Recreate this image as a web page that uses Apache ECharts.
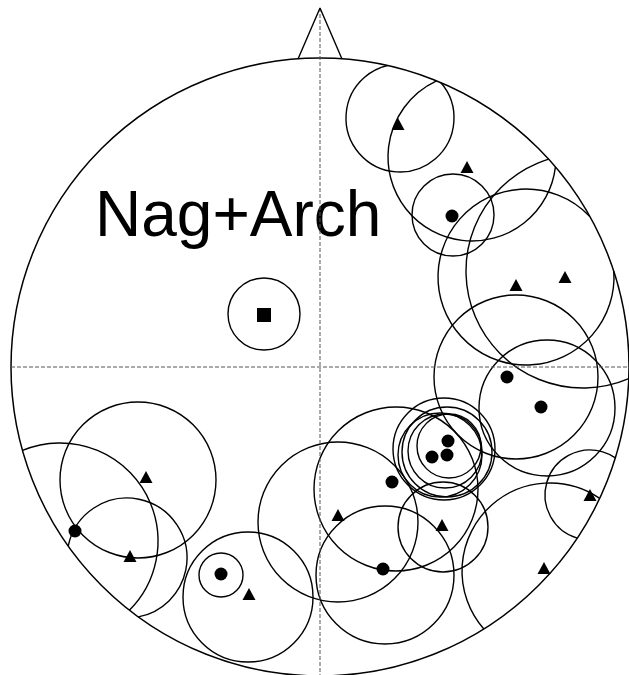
<!DOCTYPE html>
<html>
<head>
<meta charset="utf-8">
<script src="https://cdn.jsdelivr.net/npm/echarts@6/dist/echarts.min.js"></script>
<style>
	html, body { margin: 0; padding: 0; background: #fff; }
	#chart { width: 629px; height: 675px; }
</style>
</head>
<body>
<div id="chart"></div>
<script>
// units: 1 = one pixel of the original, origin at the centre of the net, y up
const primitiveR = 309

// poles, [x, y]
const triangles = [
	[78, 243], [147, 200], [196, 82], [245, 90], [-174, -110], [-190, -189],
	[-71, -227], [18, -148], [122, -158], [270, -128], [224, -201]
]
const dots = [
	[132, 151], [187, -10], [221, -40], [128, -74], [127, -88], [112, -90],
	[72, -115], [-245, -164], [-99, -207], [63, -202]
]
const squares = [[-56, 52]]

// confidence circles, [x, y, radius]
const cones = [
	[-56, 53, 36], [-99, -208, 22], [-72, -230, 65], [80, 249, 54],
	[152, 210, 84], [133, 152, 41], [206, 90, 88], [263, 96, 117],
	[196, -10, 82], [227, -41, 68], [270, -128, 45], [230, -204, 88],
	[123, -160, 45], [76, -122, 82], [18, -155, 80], [65, -208, 69],
	[-182, -113, 78], [-260, -174, 98], [-193, -191, 60],
	[124, -82, 51], [127, -85, 45], [120, -88, 42], [125, -84, 37], [129, -79, 32]
]

const northMark = [[-22, 308], [0, 359], [22, 308]]
const vLine = [[0, 359], [0, -308]]
const hLine = [[-309, 0], [309, 0]]
const label = 'Nag+Arch'

// draw only the part of a circle that lies inside the primitive
function renderCone(params, api) {
	const c = api.coord([api.value(0), api.value(1)])
	const r = api.size([api.value(2), 0])[0]
	const o = api.coord([0, 0])
	const R = api.size([primitiveR, 0])[0]
	const dx = o[0] - c[0]
	const dy = o[1] - c[1]
	const d = Math.sqrt(dx * dx + dy * dy)
	let start = 0
	let end = Math.PI * 2
	if (d + r > R) {
		const cosA = (r * r + d * d - R * R) / (2 * r * d)
		const a = Math.acos(Math.max(-1, Math.min(1, cosA)))
		const phi = Math.atan2(dy, dx)
		start = phi - a
		end = phi + a
	}
	return {
		type: 'arc',
		shape: { cx: c[0], cy: c[1], r: r, startAngle: start, endAngle: end, clockwise: true },
		style: { fill: null, stroke: '#000', lineWidth: 1.4 }
	}
}

function renderPrimitive(params, api) {
	const o = api.coord([0, 0])
	const R = api.size([api.value(2), 0])[0]
	return {
		type: 'circle',
		shape: { cx: o[0], cy: o[1], r: R },
		style: { fill: null, stroke: '#000', lineWidth: 1.5 }
	}
}

const myEchart = echarts.init(document.getElementById('chart'))
const option = {
	animation: false,
	grid: { left: 0, right: 0, top: 0, bottom: 0 },
	xAxis: { type: 'value', min: -320, max: 309, show: false },
	yAxis: { type: 'value', min: -308, max: 367, show: false },
	graphic: [
		{
			type: 'text',
			style: {
				x: 95,
				y: 218,
				text: label,
				verticalAlign: 'middle',
				font: '64px "Liberation Sans", Arial, sans-serif',
				fill: '#000'
			}
		}
	],
	series: [
		{
			type: 'line',
			data: vLine,
			symbol: 'none',
			lineStyle: { color: '#555', width: 1, type: [4, 2] }
		},
		{
			type: 'line',
			data: hLine,
			symbol: 'none',
			lineStyle: { color: '#555', width: 1, type: [4, 2] }
		},
		{
			type: 'line',
			data: northMark,
			symbol: 'none',
			lineStyle: { color: '#000', width: 1.4 }
		},
		{
			type: 'custom',
			renderItem: renderPrimitive,
			data: [[0, 0, primitiveR]],
			encode: { x: 0, y: 1 },
			clip: false
		},
		{
			type: 'custom',
			renderItem: renderCone,
			data: cones,
			encode: { x: 0, y: 1 },
			clip: false
		},
		{
			type: 'scatter',
			data: triangles,
			symbol: 'triangle',
			symbolSize: [13, 12],
			itemStyle: { color: '#000', opacity: 1 },
			z: 5
		},
		{
			type: 'scatter',
			data: dots,
			symbol: 'circle',
			symbolSize: 13,
			itemStyle: { color: '#000', opacity: 1 },
			z: 5
		},
		{
			type: 'scatter',
			data: squares,
			symbol: 'rect',
			symbolSize: 14,
			itemStyle: { color: '#000', opacity: 1 },
			z: 5
		}
	]
}
myEchart.setOption(option)
</script>
</body>
</html>
